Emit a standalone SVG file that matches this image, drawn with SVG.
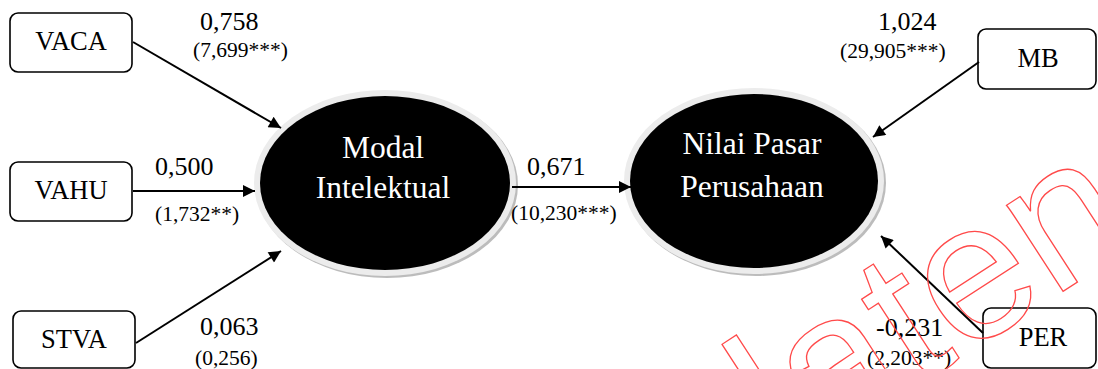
<svg xmlns="http://www.w3.org/2000/svg" width="1098" height="369" viewBox="0 0 1098 369">
  <defs>
    <marker id="arrow" viewBox="0 0 10 10" refX="10" refY="5" markerWidth="7" markerHeight="6" markerUnits="strokeWidth" orient="auto">
      <path d="M0,0 L10,5 L0,10 Z" fill="#000"/>
    </marker>
  </defs>
  <style>
    .box { fill: #fff; stroke: #000; stroke-width: 1.6; }
    .lbl { font-size: 26.5px; fill: #000; text-anchor: middle; }
    .coef { font-size: 26px; fill: #000; }
    .tval { font-size: 21.5px; fill: #000; }
    .lat { font-size: 31.5px; fill: #fff; text-anchor: middle; }
    .shadow { fill: #bcbcbc; }
    .ring { fill: #ececec; }
    .core { fill: #000; }
    .conn line { stroke: #000; stroke-width: 2; marker-end: url(#arrow); }
    .wm { font-family: 'Liberation Sans', Arial, sans-serif; font-size: 195px; fill: none; stroke: #ff4a4a; stroke-width: 1.3; }
  </style>

  <rect width="1098" height="369" fill="#fff"/>

  <g font-family="Liberation Serif, Times New Roman, serif">
    <!-- observed indicators -->
    <g id="vaca">
      <rect class="box" x="10" y="13" width="122" height="59" rx="8"/>
      <text class="lbl" x="71" y="50">VACA</text>
    </g>
    <g id="vahu">
      <rect class="box" x="10" y="162" width="122" height="59" rx="8"/>
      <text class="lbl" x="71" y="199">VAHU</text>
    </g>
    <g id="stva">
      <rect class="box" x="13" y="311" width="122" height="57" rx="8"/>
      <text class="lbl" x="74" y="348">STVA</text>
    </g>
    <g id="mb">
      <rect class="box" x="978" y="29" width="118" height="60" rx="8"/>
      <text class="lbl" x="1038" y="67">MB</text>
    </g>
    <g id="per">
      <rect class="box" x="983" y="308" width="113" height="60" rx="8"/>
      <text class="lbl" x="1043" y="346">PER</text>
    </g>

    <!-- latent constructs -->
    <g id="modal-intelektual">
      <ellipse class="shadow" cx="387" cy="185" rx="131" ry="93"/>
      <ellipse class="ring" cx="385" cy="183" rx="131" ry="93"/>
      <ellipse class="core" cx="385" cy="183" rx="125" ry="87"/>
      <text class="lat" x="383" y="158">Modal</text>
      <text class="lat" x="383" y="198">Intelektual</text>
    </g>
    <g id="nilai-pasar-perusahaan">
      <ellipse class="shadow" cx="756" cy="183" rx="130" ry="93"/>
      <ellipse class="ring" cx="754" cy="181" rx="130" ry="93"/>
      <ellipse class="core" cx="754" cy="181" rx="124" ry="87"/>
      <text class="lat" x="752" y="154">Nilai Pasar</text>
      <text class="lat" x="752" y="197">Perusahaan</text>
    </g>

    <!-- paths -->
    <g id="connectors" class="conn">
      <line x1="133" y1="42" x2="281" y2="128"/>
      <line x1="133" y1="191" x2="255" y2="191"/>
      <line x1="136" y1="343" x2="281" y2="251"/>
      <line x1="512" y1="187" x2="631" y2="187"/>
      <line x1="979" y1="62" x2="873" y2="137"/>
      <line x1="983" y1="333" x2="881" y2="236"/>
    </g>

    <!-- path coefficients and t-statistics -->
    <g id="labels">
      <text class="coef" x="200" y="30">0,758</text>
      <text class="tval" x="193" y="57">(7,699***)</text>
      <text class="coef" x="155" y="175">0,500</text>
      <text class="tval" x="155" y="221">(1,732**)</text>
      <text class="coef" x="200" y="335">0,063</text>
      <text class="tval" x="195" y="365">(0,256)</text>
      <text class="coef" x="527" y="175">0,671</text>
      <text class="tval" x="511" y="220">(10,230***)</text>
      <text class="coef" x="878" y="30">1,024</text>
      <text class="tval" x="840" y="58">(29,905***)</text>
      <text class="coef" x="876" y="336">-0,231</text>
      <text class="tval" x="867" y="365">(2,203**)</text>
    </g>
  </g>

  <!-- watermark -->
  <text class="wm" transform="translate(788,470) rotate(-33)">laten</text>
</svg>
